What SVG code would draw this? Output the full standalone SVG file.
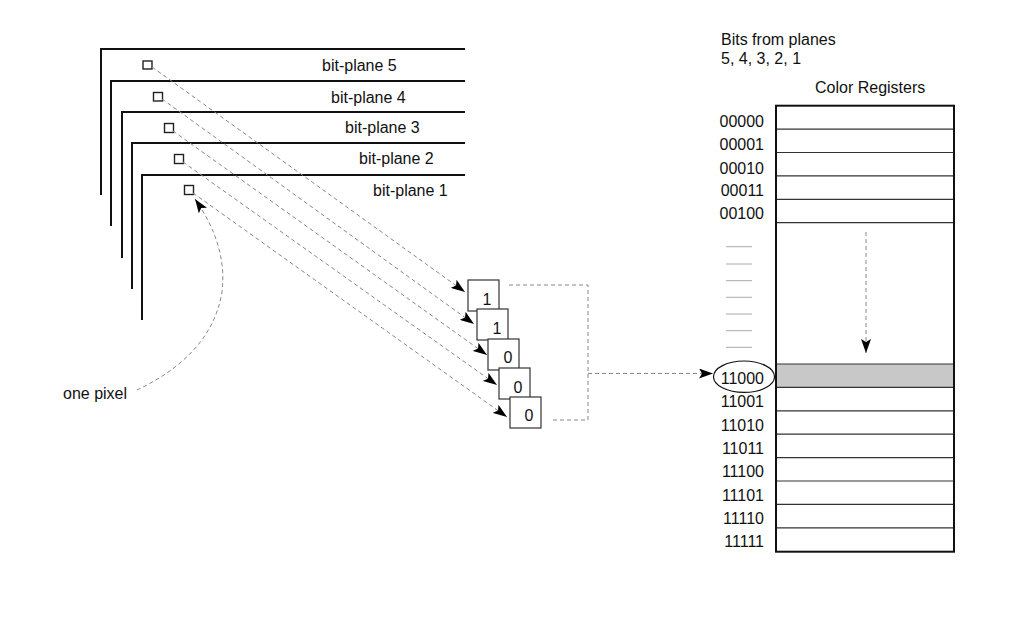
<svg xmlns="http://www.w3.org/2000/svg" width="1036" height="640" viewBox="0 0 1036 640">
<style>
text{font-family:"Liberation Sans",Arial,sans-serif;font-size:16px;fill:#111}
.plane{fill:none;stroke:#111;stroke-width:2}
.px{fill:#fff;stroke:#222;stroke-width:1.4}
.dash{fill:none;stroke:#888;stroke-width:1;stroke-dasharray:4,3}
.box{fill:#fff;stroke:#333;stroke-width:1.2}
.digit{font-size:16px;text-anchor:middle}
.lbl{text-anchor:end}
.row{stroke:#333;stroke-width:1.2}
.tick{stroke:#aaa;stroke-width:1}
</style>
<defs>
<marker id="ah" viewBox="0 0 14 10" refX="14" refY="5" markerWidth="14" markerHeight="10" markerUnits="userSpaceOnUse" orient="auto">
<path d="M0,0 L14,5 L0,10 L3,5 z" fill="#000"/>
</marker>
</defs>

<g id="bitplane5"><path class="plane" d="M101,195 V49 H465"/><rect class="px" x="143" y="61" width="9" height="8"/><text x="322" y="71">bit-plane 5</text></g>
<g id="bitplane4"><path class="plane" d="M111,226 V81 H465"/><rect class="px" x="153.5" y="92.5" width="9" height="8.5"/><text x="331" y="103">bit-plane 4</text></g>
<g id="bitplane3"><path class="plane" d="M122,258 V112 H465"/><rect class="px" x="164.5" y="123.5" width="9" height="9"/><text x="345" y="133">bit-plane 3</text></g>
<g id="bitplane2"><path class="plane" d="M132,289 V143 H465"/><rect class="px" x="174.5" y="154.5" width="9" height="9"/><text x="359" y="164">bit-plane 2</text></g>
<g id="bitplane1"><path class="plane" d="M142,320 V175 H465"/><rect class="px" x="184.5" y="185.5" width="9" height="9"/><text x="373" y="196">bit-plane 1</text></g>

<g id="one-pixel"><text x="63" y="399">one pixel</text></g>

<g id="bits">
<g id="bit5"><rect class="box" x="468" y="280" width="31" height="31"/><text class="digit" x="487" y="305">1</text></g>
<g id="bit4"><rect class="box" x="477" y="309" width="31" height="31"/><text class="digit" x="497" y="334">1</text></g>
<g id="bit3"><rect class="box" x="488" y="339" width="31" height="31"/><text class="digit" x="508" y="363">0</text></g>
<g id="bit2"><rect class="box" x="499" y="368" width="31" height="31"/><text class="digit" x="518" y="393">0</text></g>
<g id="bit1"><rect class="box" x="510" y="397" width="31" height="31"/><text class="digit" x="529" y="421">0</text></g>
</g>

<g id="header"><text x="721" y="45">Bits from planes</text><text x="721" y="64">5, 4, 3, 2, 1</text><text x="815" y="93">Color Registers</text></g>

<g id="color-registers">
<rect x="776" y="364" width="178" height="23.4" fill="#c8c8c8"/>
<g class="row">
<line x1="776" y1="129.1" x2="954" y2="129.1"/>
<line x1="776" y1="152.5" x2="954" y2="152.5"/>
<line x1="776" y1="175.9" x2="954" y2="175.9"/>
<line x1="776" y1="199.3" x2="954" y2="199.3"/>
<line x1="776" y1="222.7" x2="954" y2="222.7"/>
<line x1="776" y1="364" x2="954" y2="364"/>
<line x1="776" y1="387.4" x2="954" y2="387.4"/>
<line x1="776" y1="410.8" x2="954" y2="410.8"/>
<line x1="776" y1="434.2" x2="954" y2="434.2"/>
<line x1="776" y1="457.6" x2="954" y2="457.6"/>
<line x1="776" y1="481" x2="954" y2="481"/>
<line x1="776" y1="504.4" x2="954" y2="504.4"/>
<line x1="776" y1="527.8" x2="954" y2="527.8"/>
</g>
<rect x="776" y="105.7" width="178" height="446" fill="none" stroke="#111" stroke-width="2"/>
<g class="lbl">
<text class="lbl" x="764" y="127">00000</text>
<text class="lbl" x="764" y="150">00001</text>
<text class="lbl" x="764" y="173.5">00010</text>
<text class="lbl" x="764" y="195.5">00011</text>
<text class="lbl" x="764" y="218.5">00100</text>
<text class="lbl" x="764" y="384">11000</text>
<text class="lbl" x="764" y="407.3">11001</text>
<text class="lbl" x="764" y="430.7">11010</text>
<text class="lbl" x="764" y="454">11011</text>
<text class="lbl" x="764" y="477.3">11100</text>
<text class="lbl" x="764" y="500.7">11101</text>
<text class="lbl" x="764" y="524">11110</text>
<text class="lbl" x="764" y="547.3">11111</text>
</g>
<g class="tick">
<line x1="726" y1="246.7" x2="752" y2="246.7"/>
<line x1="726" y1="264" x2="752" y2="264"/>
<line x1="726" y1="280.7" x2="752" y2="280.7"/>
<line x1="726" y1="297.3" x2="752" y2="297.3"/>
<line x1="726" y1="314" x2="752" y2="314"/>
<line x1="726" y1="330.7" x2="752" y2="330.7"/>
<line x1="726" y1="347.3" x2="752" y2="347.3"/>
</g>
<ellipse cx="744" cy="376.7" rx="30.5" ry="15.7" fill="none" stroke="#111" stroke-width="1.2"/>
</g>

<g id="connectors">
<path class="dash" d="M152,67 L465,292" marker-end="url(#ah)"/>
<path class="dash" d="M162,99 L474,324" marker-end="url(#ah)"/>
<path class="dash" d="M173,131 L487,355" marker-end="url(#ah)"/>
<path class="dash" d="M183,162 L497,385" marker-end="url(#ah)"/>
<path class="dash" d="M193,193 L507,417" marker-end="url(#ah)"/>
<path class="dash" d="M137,390 C175,372 214,342 222,292 C226,258 215,228 195,199" marker-end="url(#ah)"/>
<path class="dash" d="M509,285 H588 V420 H550"/>
<path class="dash" d="M588,373.5 H713" marker-end="url(#ah)"/>
<path class="dash" d="M866,232 V353" marker-end="url(#ah)"/>
</g>
</svg>
